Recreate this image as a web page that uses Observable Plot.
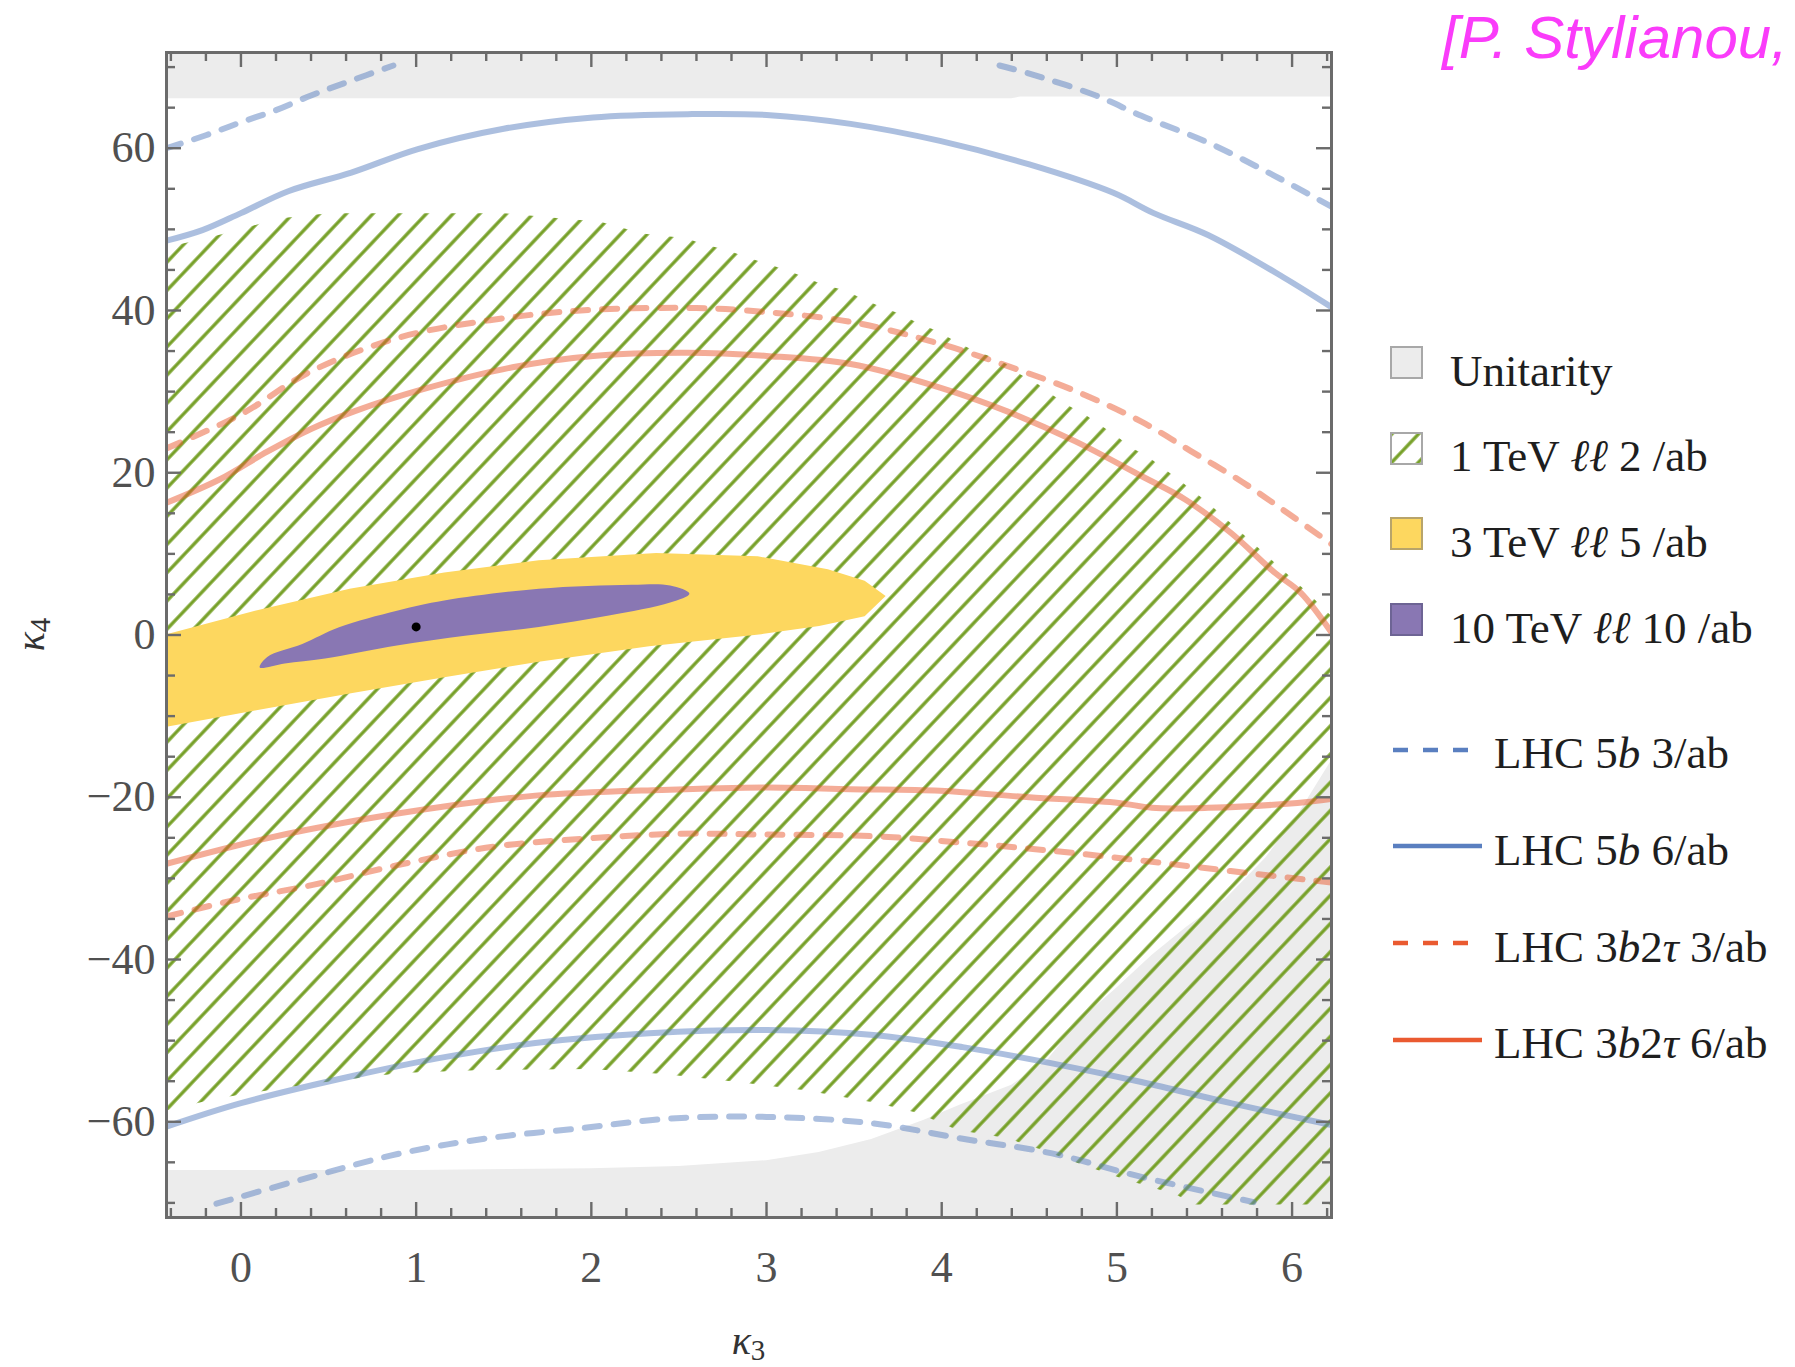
<!DOCTYPE html>
<html><head><meta charset="utf-8">
<script src="https://cdn.jsdelivr.net/npm/d3@7"></script>
<script src="https://cdn.jsdelivr.net/npm/@observablehq/plot@0.6"></script>
<style>
html,body{margin:0;padding:0;background:#fff;}
#wrap{position:relative;width:1795px;height:1367px;overflow:hidden;background:#fff;}
#wrap > svg{position:absolute;left:0;top:0;}
</style></head>
<body><div id="wrap"></div>
<script>
// ---------------- data (κ3, κ4) ----------------
const xMajorTicks = [0, 1, 2, 3, 4, 5, 6];
const yMajorTicks = [-60, -40, -20, 0, 20, 40, 60];
const xDomain = [-0.425, 6.225];
const yDomain = [-71.8, 71.8];

// Unitarity excluded regions: [κ3, κ4 boundary]
const unitarityTop = [[-0.425, 66.1], [4.4, 66.1], [4.45, 66.3], [6.225, 66.3]];
const unitarityBottom = [[-0.425, -66], [1, -66], [2, -65.8], [2.5, -65.5], [3, -64.8], [3.3, -63.8], [3.6, -62.2],
  [3.9, -59.8], [4.1, -58], [4.4, -55.5], [4.6, -52.5], [4.79, -47.5], [5.0, -43.5], [5.2, -39.5], [5.4, -36],
  [5.62, -32.6], [5.85, -27.5], [6.03, -22.3], [6.225, -15.5]];

// 1 TeV ℓℓ 2/ab region (closed polygon)
const region1TeV = [[-0.425, 47.8], [-0.2, 48.9], [0, 50], [0.2, 51.3], [0.5, 52], [1.0, 52], [1.5, 52], [1.89, 51.2],
  [2.04, 51], [2.14, 50.4], [2.29, 49.5], [2.54, 48.9], [2.65, 48.1], [2.77, 47.5], [2.88, 46.6], [3, 45.8], [3.11, 45],
  [3.22, 44.1], [3.33, 43.1], [3.45, 42.5], [3.55, 41.4], [3.66, 40.4], [3.76, 39.6], [3.86, 38.5], [3.97, 37.5],
  [4.07, 36.3], [4.17, 35.2], [4.27, 34.4], [4.37, 33.4], [4.45, 32.1], [4.55, 30.9], [4.63, 29.6], [4.73, 28.2],
  [4.83, 27], [4.93, 25.5], [5.01, 24.3], [5.09, 23], [5.17, 22.1], [5.35, 19.2], [5.52, 16.3], [5.84, 10.1],
  [6.09, 5.2], [6.225, 2.3],
  [6.225, -70.2], [5.44, -70.2], [5.34, -69], [5.03, -67], [4.78, -65.1], [4.55, -63.3], [4.37, -62], [4.09, -61],
  [3.86, -58.9], [3.63, -57.7], [3.22, -56.1], [2.84, -55.1], [2.41, -54.1], [2.0, -53.5], [1.42, -53.6], [0.91, -54],
  [0.4, -55.3], [0.04, -56.5], [-0.17, -57.3], [-0.425, -58.6]];

// 3 TeV ℓℓ 5/ab region
const region3TeV = [[-0.425, 0.1], [0.08, 3.0], [0.62, 5.7], [1.16, 7.7], [1.70, 9.2], [2.37, 10.1], [2.95, 9.7],
  [3.35, 8.1], [3.56, 6.7], [3.68, 4.8], [3.56, 2.3], [3.3, 1.1], [2.97, 0.1], [2.33, -1.4], [1.70, -3.3],
  [1.16, -5.2], [0.62, -7.2], [0.08, -9.3], [-0.425, -11.3]];

// 10 TeV ℓℓ 10/ab region
const region10TeV = [[0.107, -4.0], [0.15, -2.7], [0.35, -1.1], [0.56, 0.96], [0.89, 3.0], [1.16, 4.25], [1.70, 5.7],
  [2.23, 6.2], [2.45, 6.1], [2.56, 5.1], [2.45, 4.0], [2.10, 2.4], [1.70, 1.0], [1.29, -0.06], [0.89, -1.3],
  [0.48, -2.9], [0.25, -3.5]];

const smPoint = [[1, 1]];

// LHC 5b 3/ab (dashed blue)
const lhc5b3UpperLeft = [[-0.425, 60], [-0.2, 61.6], [0, 63.2], [0.2, 64.7], [0.4, 66.5], [0.6, 68.1], [0.87, 70.2]];
const lhc5b3UpperRight = [[4.33, 70.2], [4.5, 69.2], [4.88, 66.5], [5.14, 64], [5.52, 60.7], [5.9, 56.6], [6.225, 52.8]];
const lhc5b3Lower = [[-0.14, -70.1], [0.4, -66.8], [0.91, -63.9], [1.42, -62], [1.94, -60.8], [2.45, -59.6], [3, -59.4],
  [3.61, -60.2], [4.12, -62.1], [4.63, -63.9], [5.14, -66.8], [5.78, -69.9]];
// LHC 5b 6/ab (solid blue)
const lhc5b6Upper = [[-0.425, 48.6], [-0.22, 49.9], [0, 52], [0.27, 54.7], [0.63, 57], [1.01, 59.9], [1.5, 62.4],
  [2.01, 63.8], [2.55, 64.2], [3, 64.1], [3.48, 63], [3.99, 60.9], [4.5, 58], [4.98, 54.5], [5.21, 52], [5.52, 49.3],
  [5.95, 44.1], [6.225, 40.4]];
const lhc5b6Lower = [[-0.425, -60.6], [0, -57.7], [0.65, -54.3], [1.17, -52], [1.68, -50.3], [2.33, -49.1], [3, -48.7],
  [3.61, -49.3], [4.12, -50.8], [4.63, -52.8], [5.14, -55.1], [5.65, -57.7], [6.225, -60.4]];
// LHC 3b2τ 3/ab (dashed red)
const lhc3b2t3Upper = [[-0.425, 23], [0, 27.2], [0.4, 32.5], [0.91, 36.7], [1.42, 38.8], [1.94, 40], [2.6, 40.3],
  [3, 39.8], [3.48, 38.6], [3.99, 35.9], [4.37, 33.2], [4.76, 30.1], [5.14, 26.3], [5.42, 22.7], [5.72, 18.8],
  [5.97, 15.1], [6.225, 11.2]];
const lhc3b2t3Lower = [[-0.425, -34.7], [-0.04, -32.7], [0.41, -30.8], [0.93, -28.2], [1.44, -26.1], [1.96, -25.1],
  [2.5, -24.5], [3, -24.6], [3.61, -24.8], [4.12, -25.6], [4.63, -26.6], [5.14, -27.8], [5.65, -29.1], [6.225, -30.5]];
// LHC 3b2τ 6/ab (solid red)
const lhc3b2t6Upper = [[-0.425, 16.3], [-0.12, 19.2], [0.15, 22.6], [0.4, 25.4], [0.65, 27.6], [1.04, 30.3],
  [1.55, 33], [2.01, 34.4], [2.55, 34.8], [3, 34.4], [3.48, 33.4], [3.99, 30.5], [4.37, 27.6], [4.76, 23.9],
  [5.14, 19.6], [5.39, 16.7], [5.65, 12.6], [5.9, 7.7], [6.05, 5.2], [6.225, 0.3]];
const lhc3b2t6Lower = [[-0.425, -28.2], [0.14, -25.1], [0.65, -22.9], [1.17, -21.1], [1.68, -19.8], [2.4, -19.1],
  [3, -18.8], [3.48, -19], [3.99, -19.2], [4.5, -20], [5.01, -20.7], [5.2, -21.3], [5.52, -21.3], [6.03, -20.7],
  [6.225, -20.2]];

// legend entries
const legendAreaLabels = [
  [["Unitarity", false]],
  [["1 TeV ", false], ["ℓℓ", true], [" 2 /ab", false]],
  [["3 TeV ", false], ["ℓℓ", true], [" 5 /ab", false]],
  [["10 TeV ", false], ["ℓℓ", true], [" 10 /ab", false]]
];
const legendLineLabels = [
  [["LHC 5", false], ["b", true], [" 3/ab", false]],
  [["LHC 5", false], ["b", true], [" 6/ab", false]],
  [["LHC 3", false], ["b", true], ["2", false], ["τ", true], [" 3/ab", false]],
  [["LHC 3", false], ["b", true], ["2", false], ["τ", true], [" 6/ab", false]]
];
const citation = "[P. Stylianou,";

// ---------------- styling / layout ----------------
const W = 1795, H = 1367, ML = 166, MR = 464, MT = 52, MB = 150;
const FW = W - ML - MR, FH = H - MT - MB;
const MAJOR = 15, MINOR = 9;
const axisColor = "#6b6b6b";
const gray = "#ececec", green = "#76a028", yellow = "#fdd75f", purple = "#8977b3";
const blue = "#5a7fc0", red = "#ea5a30";
const ns = "http://www.w3.org/2000/svg";
const HATCH_ANGLE = 46.6, HATCH_DX = 26.7;
const hatchGap = HATCH_DX * Math.sin(HATCH_ANGLE * Math.PI / 180);

const xy = {x: d => d[0], y: d => d[1]};
const fmt = d => (d < 0 ? "\u2212" : "") + Math.abs(d);
const curve = (data, color, dashed) => Plot.line(data, {...xy, stroke: color, strokeOpacity: 0.5, strokeWidth: 6,
  curve: "catmull-rom", clip: true, strokeDasharray: dashed ? "15,14" : undefined});

function hatchDefs() {
  const defs = document.createElementNS(ns, "defs");
  const p = document.createElementNS(ns, "pattern");
  p.setAttribute("id", "hatch1tev");
  p.setAttribute("patternUnits", "userSpaceOnUse");
  p.setAttribute("width", hatchGap);
  p.setAttribute("height", 40);
  p.setAttribute("patternTransform", `rotate(${90 - HATCH_ANGLE})`);
  const l = document.createElementNS(ns, "line");
  l.setAttribute("x1", hatchGap / 2); l.setAttribute("x2", hatchGap / 2);
  l.setAttribute("y1", -1); l.setAttribute("y2", 41);
  l.setAttribute("stroke", green); l.setAttribute("stroke-width", 3.3);
  p.appendChild(l);
  defs.appendChild(p);
  return defs;
}

function axisTitles(index, scales, values, dim) {
  const g = document.createElementNS(ns, "g");
  g.setAttribute("fill", "#333");
  g.setAttribute("font-family", "'Liberation Serif', 'DejaVu Serif', serif");
  const mk = (sub, transform) => {
    const t = document.createElementNS(ns, "text");
    t.setAttribute("text-anchor", "middle");
    t.setAttribute("transform", transform);
    const a = document.createElementNS(ns, "tspan");
    a.setAttribute("font-style", "italic"); a.setAttribute("font-size", 40);
    a.textContent = "κ";
    const b = document.createElementNS(ns, "tspan");
    b.setAttribute("font-size", 29); b.setAttribute("dy", 6);
    b.textContent = sub;
    t.appendChild(a); t.appendChild(b);
    g.appendChild(t);
  };
  const cx = (scales.x(xDomain[0]) + scales.x(xDomain[1])) / 2;
  const cy = (scales.y(yDomain[0]) + scales.y(yDomain[1])) / 2;
  mk("3", `translate(${cx},${dim.height - 13})`);
  mk("4", `translate(44,${cy}) rotate(-90)`);
  return g;
}

const xMinor = d3.range(-4, 63, 2).map(v => v / 10).filter(v => !xMajorTicks.includes(v));
const yMinor = d3.range(-70, 71, 5).filter(v => !yMajorTicks.includes(v));
const tickOpts = {stroke: axisColor, strokeWidth: 2.4};

const chart = Plot.plot({
  width: W, height: H,
  marginLeft: ML, marginRight: MR, marginTop: MT, marginBottom: MB,
  style: {background: "transparent", fontFamily: "'Liberation Serif', serif", fontSize: "44px", color: "#505050", overflow: "visible"},
  x: {domain: xDomain},
  y: {domain: yDomain},
  marks: [
    hatchDefs,
    Plot.areaY(unitarityTop, {x: d => d[0], y1: d => d[1], y2: yDomain[1], fill: gray}),
    Plot.areaY(unitarityBottom, {x: d => d[0], y1: yDomain[0], y2: d => d[1], fill: gray}),
    Plot.line(region1TeV, {...xy, fill: "url(#hatch1tev)", stroke: "none"}),
    Plot.line(region3TeV, {...xy, fill: yellow, stroke: "none"}),
    Plot.line(region10TeV, {...xy, fill: purple, stroke: "none", curve: "catmull-rom-closed", clip: true}),
    curve(lhc5b3UpperLeft, blue, true),
    curve(lhc5b3UpperRight, blue, true),
    curve(lhc5b3Lower, blue, true),
    curve(lhc5b6Upper, blue, false),
    curve(lhc5b6Lower, blue, false),
    curve(lhc3b2t3Upper, red, true),
    curve(lhc3b2t3Lower, red, true),
    curve(lhc3b2t6Upper, red, false),
    curve(lhc3b2t6Lower, red, false),
    Plot.dot(smPoint, {...xy, r: 4.5, fill: "#000", stroke: "none"}),
    Plot.frame({stroke: axisColor, strokeWidth: 3}),
    Plot.tickX(xMajorTicks, {x: d => d, ...tickOpts, insetBottom: FH - MAJOR}),
    Plot.tickX(xMajorTicks, {x: d => d, ...tickOpts, insetTop: FH - MAJOR}),
    Plot.tickX(xMinor, {x: d => d, ...tickOpts, insetBottom: FH - MINOR}),
    Plot.tickX(xMinor, {x: d => d, ...tickOpts, insetTop: FH - MINOR}),
    Plot.tickY(yMajorTicks, {y: d => d, ...tickOpts, insetRight: FW - MAJOR}),
    Plot.tickY(yMajorTicks, {y: d => d, ...tickOpts, insetLeft: FW - MAJOR}),
    Plot.tickY(yMinor, {y: d => d, ...tickOpts, insetRight: FW - MINOR}),
    Plot.tickY(yMinor, {y: d => d, ...tickOpts, insetLeft: FW - MINOR}),
    Plot.axisX(xMajorTicks, {anchor: "bottom", tickSize: 0, tickPadding: 33, tickFormat: fmt, fontSize: 44, label: null}),
    Plot.axisY(yMajorTicks, {anchor: "left", tickSize: 0, tickPadding: 11, tickFormat: fmt, fontSize: 44, label: null}),
    axisTitles
  ]
});
document.getElementById("wrap").appendChild(chart);

// ---------------- legend + citation overlay ----------------
const ov = d3.create("svg").attr("width", W).attr("height", H)
  .style("font-family", "'Liberation Serif', 'DejaVu Serif', serif").style("pointer-events", "none");

ov.append("text").attr("x", 1442).attr("y", 58)
  .attr("font-family", "'Liberation Sans', Arial, sans-serif").attr("font-style", "italic")
  .attr("font-size", 60).attr("fill", "#fa3cfa").text(citation);

const areaSwatch = [
  {fill: gray, stroke: "#a8a8a8"},
  {fill: "url(#hatch1tev)", stroke: "#a8a8a8"},
  {fill: yellow, stroke: "#b8a46a"},
  {fill: purple, stroke: "#6d6494"}
];
const areaTop = [347, 433, 518, 604];
const areaBase = [386, 471, 557, 643];
legendAreaLabels.forEach((segs, i) => {
  ov.append("rect").attr("x", 1391).attr("y", areaTop[i]).attr("width", 31).attr("height", 31)
    .attr("fill", i === 1 ? "#fff" : areaSwatch[i].fill).attr("stroke", areaSwatch[i].stroke).attr("stroke-width", 2);
  if (i === 1) ov.append("rect").attr("x", 1391).attr("y", areaTop[i]).attr("width", 31).attr("height", 31)
    .attr("fill", "url(#hatch1tev)").attr("stroke", areaSwatch[i].stroke).attr("stroke-width", 2);
  const t = ov.append("text").attr("x", 1450).attr("y", areaBase[i]).attr("font-size", 45).attr("fill", "#1e1e1e")
    .style("white-space", "pre");
  segs.forEach(([s, it]) => t.append("tspan").attr("font-style", it ? "italic" : "normal").text(s));
});

const lineY = [750, 846, 943, 1040];
const lineBase = [768, 865, 962, 1058];
const lineColors = [blue, blue, red, red];
const lineDash = [true, false, true, false];
legendLineLabels.forEach((segs, i) => {
  ov.append("line").attr("x1", 1393).attr("x2", 1482).attr("y1", lineY[i]).attr("y2", lineY[i])
    .attr("stroke", lineColors[i]).attr("stroke-width", 4.5).attr("stroke-dasharray", lineDash[i] ? "15,15" : null);
  const t = ov.append("text").attr("x", 1494).attr("y", lineBase[i]).attr("font-size", 45).attr("fill", "#1e1e1e")
    .style("white-space", "pre");
  segs.forEach(([s, it]) => t.append("tspan").attr("font-style", it ? "italic" : "normal").text(s));
});
document.getElementById("wrap").appendChild(ov.node());
</script>
</body></html>
